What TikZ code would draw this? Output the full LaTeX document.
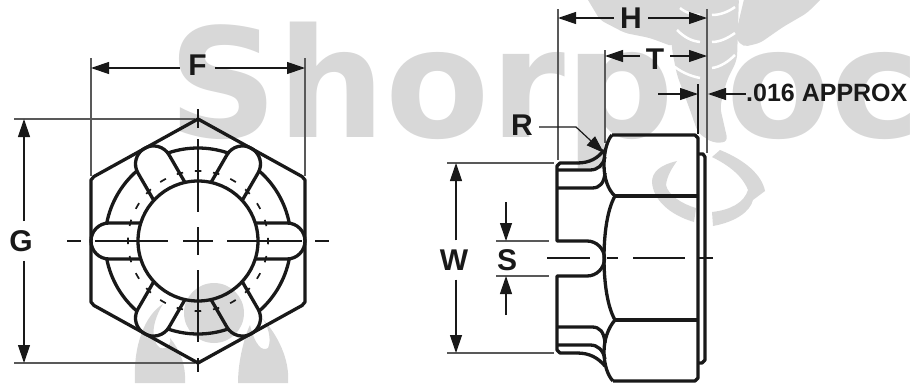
\documentclass[tikz,border=0pt]{standalone}
\usepackage{fontspec}
\setmainfont{Liberation Sans}
\newfontfamily\wmfont{DejaVu Sans}
\usetikzlibrary{arrows.meta}
\definecolor{wmgray}{HTML}{D8D8D8}
\newcommand{\biglabel}{\fontsize{30}{32}\selectfont\bfseries}
\begin{document}
\begin{tikzpicture}[x=1pt,y=-1pt]
\tikzstyle{nutline}=[black!90,line width=3.3pt,line join=round]
\tikzstyle{midline}=[black!90,line width=1.3pt]
\tikzstyle{dashring}=[black!90,line width=1.7pt,dash pattern=on 6.5pt off 11.83pt,dash phase=3.25pt]
\tikzstyle{extline}=[black!65,line width=1.1pt]
\tikzstyle{dimline}=[black!90,line width=1.2pt,-{Triangle[length=18pt,width=12pt]}]
\tikzstyle{dimlabel}=[font=\biglabel,inner sep=9pt,text=black!90]
\tikzstyle{wmark}=[font=\wmfont\fontsize{152}{160}\selectfont\bfseries,text=wmgray,anchor=base west,inner sep=0pt]
\useasboundingbox (0,0) rectangle (913,383);
\node [wmark] (wmleft) at (168,137) {Shorp};
\node [wmark] (wmright) at (726,137) {oc};
\fill [wmgray,rounded corners=5pt] (585,-5) -- (600,20) -- (625,33) -- (650,38) -- (674,47) -- (674,-5) -- cycle;
\fill [wmgray,rounded corners=6pt] (670,-5) -- (672,50) -- (677,75) -- (690,110) -- (698,133) -- (713,143) -- (728,142) -- (720,107) -- (727,80) -- (737,60) -- (739,-5) -- cycle;
\fill [wmgray,rounded corners=5pt] (745,-5) -- (825,-5) -- (807,13) -- (783,27) -- (760,43) -- (743,47) -- (735,37) -- cycle;
\draw [white,line width=2.5pt] (677,30) .. controls (685,38) and (692,41) .. (700,42);
\draw [white,line width=2.5pt] (670,63) .. controls (680,72) and (690,76) .. (700,78);
\draw [white,line width=2.5pt] (680,8) .. controls (686,13) and (693,15) .. (700,15);
\draw [white,line width=2.5pt] (712,42) .. controls (720,42) and (728,38) .. (735,33);
\draw [white,line width=2.5pt] (712,68) .. controls (720,67) and (728,62) .. (735,55);
\draw [white,line width=2.5pt] (712,15) .. controls (720,15) and (728,12) .. (735,7);
\fill [wmgray] (720,150) .. controls (745,160) and (762,175) .. (765,191) -- (753,200) .. controls (750,212) and (735,222) .. (713,226) -- (712,212) .. controls (730,210) and (744,203) .. (748,190) .. controls (742,175) and (728,165) .. (712,157) -- cycle;
\fill [wmgray] (677,161) .. controls (660,165) and (652,172) .. (652,182) .. controls (653,200) and (670,215) .. (694,222) -- (696,208) .. controls (682,204) and (668,195) .. (666,185) .. controls (667,176) and (672,168) .. (677,161) -- cycle;
\fill [wmgray] (135,383) .. controls (133,345) and (145,315) .. (163,304) .. controls (152,322) and (150,340) .. (160,348) .. controls (168,350) and (172,342) .. (170,338) .. controls (180,350) and (186,365) .. (185,383) -- cycle;
\fill [wmgray] (214,313) circle (30);
\fill [wmgray] (238,383) .. controls (238,360) and (245,335) .. (250,325) .. controls (255,345) and (262,352) .. (268,348) .. controls (272,340) and (268,325) .. (262,318) .. controls (278,335) and (290,360) .. (288,383) -- cycle;
\draw [extline] (91,58) -- (91,176);
\draw [extline] (305,58) -- (305,176);
\draw [extline] (14,119) -- (195,119);
\draw [extline] (14,363) -- (195,363);
\node [dimlabel,inner sep=8pt] (labelF) at (197.5,65) {F};
\coordinate (arrowFl) at (91,68);
\coordinate (arrowFr) at (305,68);
\draw [dimline] (labelF.west |- arrowFl) -- (arrowFl);
\draw [dimline] (labelF.east |- arrowFr) -- (arrowFr);
\node [dimlabel] (labelG) at (21,241) {G};
\coordinate (arrowGt) at (24,119);
\coordinate (arrowGb) at (24,363);
\draw [dimline] (arrowGt |- labelG.north) -- (arrowGt);
\draw [dimline] (arrowGb |- labelG.south) -- (arrowGb);
\draw [nutline] (198,119) -- (302,176.5) -- (305,180) -- (305,302) -- (302,305.5) -- (198,363) -- (94,305.5) -- (91,302) -- (91,180) -- (94,176.5) -- cycle;
\draw [nutline] (198,241) circle (60);
\draw [nutline] ([shift={(11.2:93)}]198,241) arc[start angle=11.2,end angle=48.8,radius=93];
\draw [nutline] ([shift={(71.2:93)}]198,241) arc[start angle=71.2,end angle=108.8,radius=93];
\draw [nutline] ([shift={(131.2:93)}]198,241) arc[start angle=131.2,end angle=168.8,radius=93];
\draw [nutline] ([shift={(191.2:93)}]198,241) arc[start angle=191.2,end angle=228.8,radius=93];
\draw [nutline] ([shift={(251.2:93)}]198,241) arc[start angle=251.2,end angle=288.8,radius=93];
\draw [nutline] ([shift={(311.2:93)}]198,241) arc[start angle=311.2,end angle=348.8,radius=93];
\draw [nutline] (255.2,223) -- (287,223) arc[start angle=-90,end angle=90,radius=18] -- (255.2,259);
\draw [nutline,rotate around={60:(198,241)}] (255.2,223) -- (287,223) arc[start angle=-90,end angle=90,radius=18] -- (255.2,259);
\draw [nutline,rotate around={120:(198,241)}] (255.2,223) -- (287,223) arc[start angle=-90,end angle=90,radius=18] -- (255.2,259);
\draw [nutline,rotate around={180:(198,241)}] (255.2,223) -- (287,223) arc[start angle=-90,end angle=90,radius=18] -- (255.2,259);
\draw [nutline,rotate around={240:(198,241)}] (255.2,223) -- (287,223) arc[start angle=-90,end angle=90,radius=18] -- (255.2,259);
\draw [nutline,rotate around={300:(198,241)}] (255.2,223) -- (287,223) arc[start angle=-90,end angle=90,radius=18] -- (255.2,259);
\draw [dashring] (198,241) circle (70);
\draw [midline] (198,109) -- (198,128) (198,139) -- (198,212) (198,227) -- (198,255) (198,270) -- (198,342) (198,358) -- (198,372);
\draw [midline] (67,241) -- (81,241) (95,241) -- (168,241) (183,241) -- (213,241) (227,241) -- (302,241) (315,241) -- (329,241);
\draw [extline] (558,9) -- (558,160);
\draw [extline] (707,9) -- (707,153);
\draw [extline] (605,50) -- (605,143);
\draw [midline] (698,84) -- (698,134);
\draw [extline] (447,163) -- (554,163);
\draw [extline] (447,353) -- (554,353);
\draw [extline] (496,241) -- (549,241);
\draw [extline] (496,276) -- (549,276);
\node [dimlabel,inner sep=6pt] (labelH) at (631,18) {H};
\coordinate (arrowHl) at (558,18);
\coordinate (arrowHr) at (707,18);
\draw [dimline] (labelH.west) -- (arrowHl);
\draw [dimline] (labelH.east) -- (arrowHr);
\node [dimlabel,inner sep=6pt] (labelT) at (655,59) {T};
\coordinate (arrowTl) at (605,56);
\coordinate (arrowTr) at (707,56);
\draw [dimline] (labelT.west |- arrowTl) -- (arrowTl);
\draw [dimline] (labelT.east |- arrowTr) -- (arrowTr);
\node [font=\fontsize{25}{27}\selectfont\bfseries,inner sep=0pt,anchor=west,text=black!90] (labelapprox) at (746,93) {.016 APPROX};
\coordinate (arrowAl) at (698,94);
\coordinate (arrowAr) at (708,94);
\coordinate (startAl) at (658,94);
\draw [dimline] (startAl) -- (arrowAl);
\draw [dimline] (labelapprox.west |- arrowAr) -- (arrowAr);
\node [dimlabel,inner sep=0pt] (labelR) at (522,125) {R};
\coordinate (leadR) at (576,127);
\coordinate (tipR) at (604,153);
\draw [dimline] (labelR.east |- leadR) ++(6,0) -- (leadR) -- (tipR);
\node [dimlabel] (labelW) at (454,260) {W};
\coordinate (arrowWt) at (456,163);
\coordinate (arrowWb) at (456,353);
\draw [dimline] (arrowWt |- labelW.north) -- (arrowWt);
\draw [dimline] (arrowWb |- labelW.south) -- (arrowWb);
\node [dimlabel,inner sep=0pt] (labelS) at (507,260) {S};
\coordinate (arrowSt) at (506,241);
\coordinate (arrowSb) at (506,276);
\coordinate (startSt) at (506,202);
\coordinate (startSb) at (506,315);
\draw [dimline] (startSt) -- (arrowSt);
\draw [dimline] (startSb) -- (arrowSb);
\draw [nutline] (577,163) -- (560,163) -- (557,166) -- (557,241) -- (587,241) arc[start angle=-90,end angle=90,radius=17.5] -- (557,276) -- (557,350) -- (560,353) -- (577,353);
\draw [nutline] (577,163) .. controls (590,163) and (598,158) .. (604,150);
\draw [nutline] (557,170) -- (590,170) .. controls (598,170) and (603,165) .. (605,157);
\draw [nutline] (557,188) -- (592,188) .. controls (600,188) and (604,183) .. (605,173);
\draw [nutline] (557,327) -- (592,327) .. controls (600,327) and (604,332) .. (605,343);
\draw [nutline] (557,345) -- (590,345) .. controls (598,345) and (603,350) .. (605,359);
\draw [nutline] (577,353) .. controls (590,353) and (598,358) .. (605,366);
\draw [nutline] (612,135) .. controls (608,139) and (604,150) .. (604,165) .. controls (604,178) and (608,190) .. (615,196);
\draw [nutline] (615,196) .. controls (607,210) and (604,235) .. (604,258) .. controls (604,281) and (607,306) .. (615,320);
\draw [nutline] (615,320) .. controls (608,328) and (604,340) .. (604,352) .. controls (604,365) and (608,376) .. (613,381);
\draw [nutline] (612,135) -- (695,135) -- (698,138) -- (698,378) -- (695,381) -- (613,381);
\draw [nutline] (615,196) -- (698,196);
\draw [nutline] (615,320) -- (698,320);
\draw [nutline] (698,154) -- (703,154) -- (705,157) -- (705,360) -- (702,363) -- (698,363);
\draw [midline] (547,258) -- (590,258) (607,258) -- (618,258) (633,258) -- (685,258) (699,258) -- (713,258);
\end{tikzpicture}
\end{document}
